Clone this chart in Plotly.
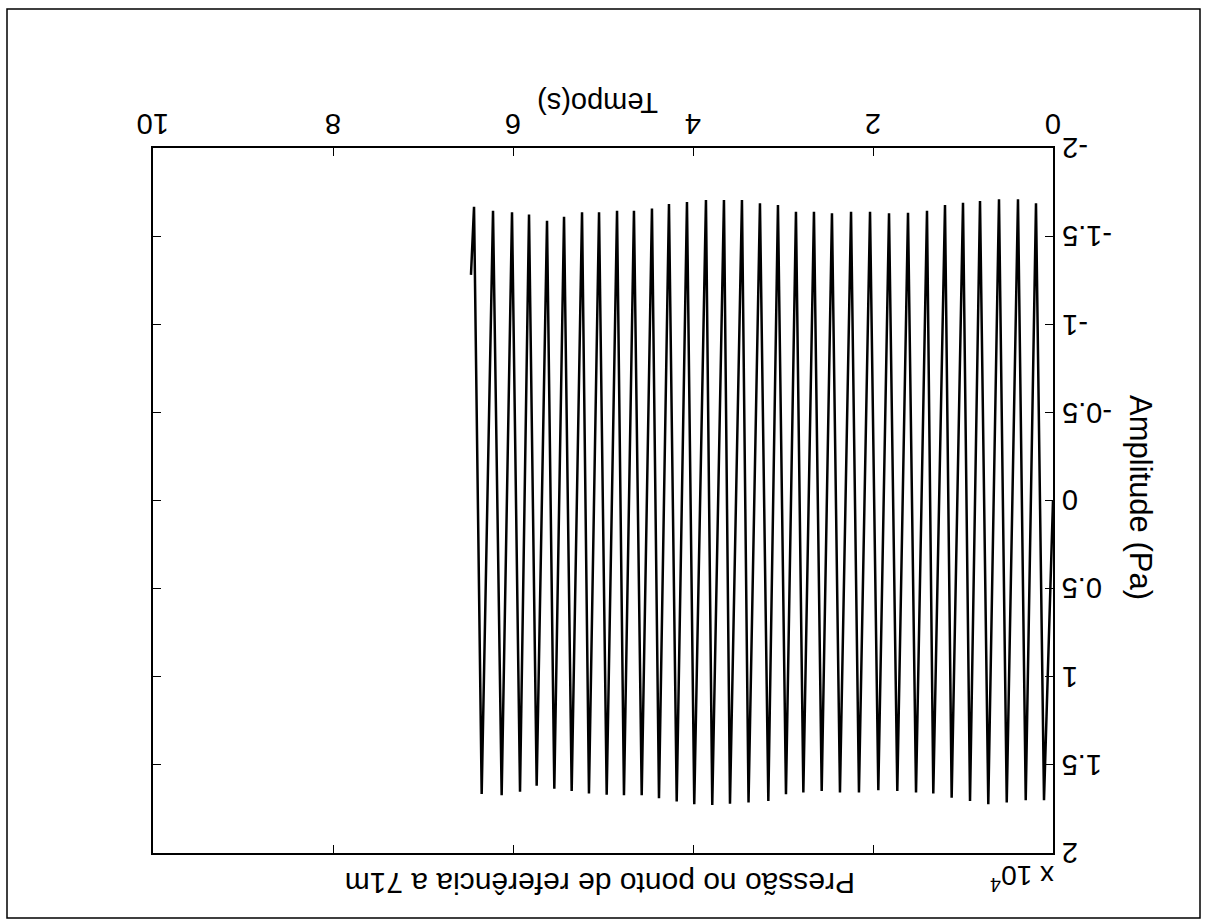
import plotly.graph_objects as go

# Pressure signal (time in s, amplitude in Pa)
pos_peak_t = [0.100, 0.303, 0.514, 0.719, 0.922, 1.126, 1.330, 1.522, 1.730, 1.941,
              2.156, 2.367, 2.570, 2.774, 2.967, 3.163, 3.383, 3.589, 3.786, 3.986,
              4.181, 4.378, 4.570, 4.767, 4.959, 5.156, 5.348, 5.541, 5.737, 5.922,
              6.126, 6.348]
pos_peak_v = [17010, 17010, 17140, 17230, 17050, 16860, 16630, 16570, 16480, 16440,
              16570, 16570, 16480, 16570, 16670, 17050, 17140, 17200, 17270, 17230,
              17080, 16890, 16720, 16720, 16700, 16630, 16480, 16350, 16190, 16530,
              16720, 16650]
neg_peak_t = [0.189, 0.389, 0.600, 0.811, 1.000, 1.200, 1.400, 1.611, 1.822, 2.033,
              2.244, 2.456, 2.656, 2.856, 3.056, 3.256, 3.456, 3.656, 3.856, 4.067,
              4.267, 4.456, 4.656, 4.844, 5.044, 5.233, 5.433, 5.622, 5.822, 6.011,
              6.222, 6.433]
neg_peak_v = [-16860, -17090, -17090, -16990, -16890, -16760, -16440, -16320, -16290, -16380,
              -16380, -16290, -16380, -16380, -16760, -16860, -17050, -17050, -17050, -16930,
              -16820, -16570, -16440, -16440, -16350, -16350, -16100, -15870, -16230, -16350,
              -16440, -16660]
start_t, start_v = 0.0, 0
end_t, end_v = 6.467, -12800

x_ticks = [0, 2, 4, 6, 8, 10]
x_ticktext = ["0", "2", "4", "6", "8", "10"]
y_ticks = [-20000, -15000, -10000, -5000, 0, 5000, 10000, 15000, 20000]
y_ticktext = ["-2", "-1.5", "-1", "-0.5", "0", "0.5", "1", "1.5", "2"]

title_text = "Pressão no ponto de referência a 71m"
x_title = "Tempo(s)"
y_title = "Amplitude (Pa)"
exp_text = "x 10<sup>4</sup>"

# build the trace by interleaving the read extrema in time order
pts = [(start_t, start_v)] + list(zip(pos_peak_t, pos_peak_v)) + list(zip(neg_peak_t, neg_peak_v)) + [(end_t, end_v)]
pts.sort(key=lambda p: p[0])
t = [p[0] for p in pts]
v = [p[1] for p in pts]

FONT = "Liberation Sans, Arial, sans-serif"

fig = go.Figure()
fig.add_trace(go.Scatter(x=t, y=v, mode="lines",
                         line=dict(color="black", width=2.5), showlegend=False))

axis_common = dict(showgrid=False, zeroline=False, showline=True, linecolor="black",
                   linewidth=1.5, ticks="inside", ticklen=8, tickcolor="black",
                   tickwidth=1.2, mirror="ticks", showticklabels=False)

fig.update_xaxes(range=[10, 0], side="top", tickvals=x_ticks, **axis_common)
fig.update_yaxes(range=[20000, -20000], side="right", tickvals=y_ticks, **axis_common)

W, H = 1216, 922
L, R, T, B = 153, 163, 148, 69
pw, ph = W - L - R, H - T - B


def px(xp):
    return (xp - L) / pw


def py(yp):
    return (H - B - yp) / ph


tick_font = dict(family=FONT, color="black", size=29)

# tick labels, drawn upside down like the scanned (rotated) reference
for tv, tt in zip(x_ticks, x_ticktext):
    fig.add_annotation(xref="x", yref="paper", x=tv, y=py(124), text=tt,
                       showarrow=False, textangle=180, xanchor="center",
                       yanchor="middle", font=tick_font)
for tv, tt in zip(y_ticks, y_ticktext):
    fig.add_annotation(xref="paper", yref="y", x=px(1060), y=tv, text=tt,
                       showarrow=False, textangle=180, xanchor="left",
                       yanchor="middle", font=tick_font)

anns = [
    dict(text=x_title, x=px(598), y=py(103), textangle=180, font_size=29),
    dict(text=title_text, x=px(600), y=py(884), textangle=180, font_size=30),
    dict(text=y_title, x=px(1141), y=py(497), textangle=90, font_size=31),
    dict(text=exp_text, x=px(1022), y=py(878), textangle=180, font_size=28),
]
for a in anns:
    fig.add_annotation(xref="paper", yref="paper", showarrow=False,
                       xanchor="center", yanchor="middle",
                       font=dict(family=FONT, color="black", size=a.pop("font_size")), **a)

# outer frame of the figure
fig.add_shape(type="rect", xref="paper", yref="paper",
              x0=px(7), x1=px(1200), y0=py(918), y1=py(9),
              line=dict(color="black", width=1.5))

fig.update_layout(width=W, height=H, margin=dict(l=L, r=R, t=T, b=B),
                  plot_bgcolor="white", paper_bgcolor="white")

fig.write_html("out.html")
